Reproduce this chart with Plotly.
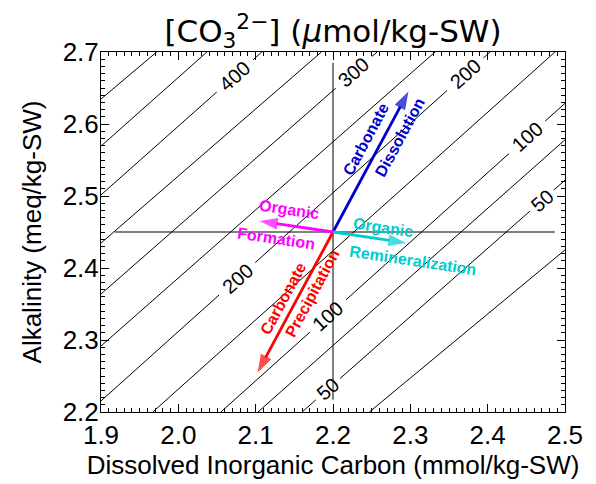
import math
import plotly.graph_objects as go

# ---------------- data ----------------
# [CO3 2-] contour levels (umol/kg-SW) and where each contour crosses Alk = 2.2 and Alk = 2.7
co3_levels = [500, 450, 400, 350, 300, 250, 200, 150, 100, 75, 50, 25]
dic_at_alk_low = [1.421, 1.513, 1.584, 1.648, 1.726, 1.803, 1.884, 1.967, 2.055, 2.103, 2.160, 2.247]
dic_at_alk_high = [1.972, 2.037, 2.108, 2.185, 2.257, 2.332, 2.403, 2.487, 2.574, 2.628, 2.688, 2.809]
alk_low, alk_high = 2.2, 2.7

# contour labels: which level, and DIC position along that contour
label_levels = [400, 300, 200, 100, 50, 200, 100, 50]
label_dic = [2.073, 2.227, 2.371, 2.451, 2.470, 2.076, 2.1935, 2.1935]

# reference cross through the starting water
origin_dic, origin_alk = 2.2, 2.45
cross_dic = [1.918, 2.487]
cross_alk = [2.217, 2.685]

# process vectors (change in DIC, change in Alk)
process_names = ["Carbonate Dissolution", "Carbonate Precipitation",
                 "Organic Formation", "Organic Remineralization"]
delta_dic = [0.10, -0.10, -0.10, 0.10]
delta_alk = [0.20, -0.20, 0.016, -0.016]

# process labels (two lines each, placed beside the arrows); index into the processes
process_label_text = ["Carbonate", "Dissolution", "Carbonate", "Precipitation",
                      "Organic", "Formation", "Organic", "Remineralization"]
process_label_of = [0, 0, 1, 1, 2, 2, 3, 3]
process_label_dic = [2.2427, 2.2867, 2.1353, 2.1741, 2.1431, 2.1263, 2.2647, 2.3035]
process_label_alk = [2.5778, 2.5806, 2.3583, 2.3653, 2.4806, 2.4403, 2.4569, 2.4111]

x_ticks = [1.9, 2.0, 2.1, 2.2, 2.3, 2.4, 2.5]
x_tick_text = ["1.9", "2.0", "2.1", "2.2", "2.3", "2.4", "2.5"]
y_ticks = [2.2, 2.3, 2.4, 2.5, 2.6, 2.7]
y_tick_text = ["2.2", "2.3", "2.4", "2.5", "2.6", "2.7"]
x_range = [1.9, 2.5]
y_range = [2.2, 2.7]

# ---------------- style ----------------
# the page body keeps the browser's 8px margin, so the figure is 8px smaller
W, H = 588, 476
M = dict(l=93, r=31, t=44, b=72)
FONT = "Liberation Sans, Arial, sans-serif"
process_colors = ["#0000cd", "#ff0000", "#ff00ff", "#00cdcd"]

plot_w = W - M["l"] - M["r"]
plot_h = H - M["t"] - M["b"]
px_per_dic = plot_w / (x_range[1] - x_range[0])
px_per_alk = plot_h / (y_range[1] - y_range[0])

fig = go.Figure()

# contour lines with gaps where labels sit
cx, cy = [], []
labels = []  # (text, x, y, angle)
for lev, lo, hi in zip(co3_levels, dic_at_alk_low, dic_at_alk_high):
    slope = (alk_high - alk_low) / (hi - lo)

    def alk_on(d):
        return alk_low + (d - lo) * slope

    gaps = []
    for ll, ld in zip(label_levels, label_dic):
        if ll == lev:
            half = 0.0078 * len(str(ll))
            gaps.append((ld - half, ld + half))
            ang = -math.degrees(math.atan(slope * px_per_alk / px_per_dic))
            labels.append((str(ll), ld, alk_on(ld), ang))
    gaps.sort()
    start = lo
    for g0, g1 in gaps:
        cx += [start, g0, None]
        cy += [alk_on(start), alk_on(g0), None]
        start = g1
    cx += [start, hi, None]
    cy += [alk_on(start), alk_on(hi), None]

fig.add_trace(go.Scatter(x=cx, y=cy, mode="lines", line=dict(color="black", width=1),
                         hoverinfo="skip", showlegend=False))

# cross lines
fig.add_trace(go.Scatter(x=cross_dic, y=[origin_alk, origin_alk], mode="lines",
                         line=dict(color="black", width=1), showlegend=False, hoverinfo="skip"))
fig.add_trace(go.Scatter(x=[origin_dic, origin_dic], y=cross_alk, mode="lines",
                         line=dict(color="black", width=1), showlegend=False, hoverinfo="skip"))

# process arrows
for name, ddic, dalk, col in zip(process_names, delta_dic, delta_alk, process_colors):
    fig.add_trace(go.Scatter(
        x=[origin_dic, origin_dic + ddic], y=[origin_alk, origin_alk + dalk],
        mode="lines+markers", name=name, showlegend=False,
        line=dict(color=col, width=2.8),
        marker=dict(symbol="arrow", size=[0, 19], angleref="previous", color=col,
                    standoff=4, line=dict(width=0)),
    ))

annotations = []
for txt, lx, ly, ang in labels:
    annotations.append(dict(x=lx, y=ly, xref="x", yref="y", text=txt, showarrow=False,
                            textangle=ang, font=dict(family=FONT, size=20, color="black")))
for t, k, lx, ly in zip(process_label_text, process_label_of, process_label_dic, process_label_alk):
    ang = -math.degrees(math.atan((delta_alk[k] * px_per_alk) / (delta_dic[k] * px_per_dic)))
    annotations.append(dict(x=lx, y=ly, xref="x", yref="y", text="<b>%s</b>" % t, showarrow=False,
                            textangle=ang, font=dict(family=FONT, size=16, color=process_colors[k])))

axis_common = dict(
    showgrid=False, zeroline=False, showline=True, linecolor="black", linewidth=1,
    mirror="allticks", ticks="inside", ticklen=8, tickcolor="black", tickwidth=1,
    tickfont=dict(family=FONT, size=26, color="black"), automargin=False,
    minor=dict(ticks="inside", ticklen=4, tickcolor="black", dtick=0.01, showgrid=False),
)

fig.update_layout(
    width=W, height=H, margin=M,
    paper_bgcolor="white", plot_bgcolor="white",
    title=dict(text="[CO<sub>3</sub><sup>2−</sup>] (<i>μ</i>mol/kg-SW)",
               x=(M["l"] + plot_w / 2) / W, xanchor="center", xref="container",
               y=1 - 23 / H, yanchor="middle", yref="container", automargin=False,
               font=dict(family="DejaVu Sans", size=31, color="black")),
    xaxis=dict(range=x_range, tickvals=x_ticks, ticktext=x_tick_text,
               title=dict(text="Dissolved Inorganic Carbon (mmol/kg-SW)",
                          font=dict(family=FONT, size=26, color="black"), standoff=0),
               ticklabelstandoff=0, **axis_common),
    yaxis=dict(range=y_range, tickvals=y_ticks, ticktext=y_tick_text,
               title=dict(text="Alkalinity (meq/kg-SW)",
                          font=dict(family=FONT, size=26, color="black"), standoff=13),
               ticklabelstandoff=-4, **axis_common),
    annotations=annotations,
    showlegend=False,
)

fig.write_html("out.html")
